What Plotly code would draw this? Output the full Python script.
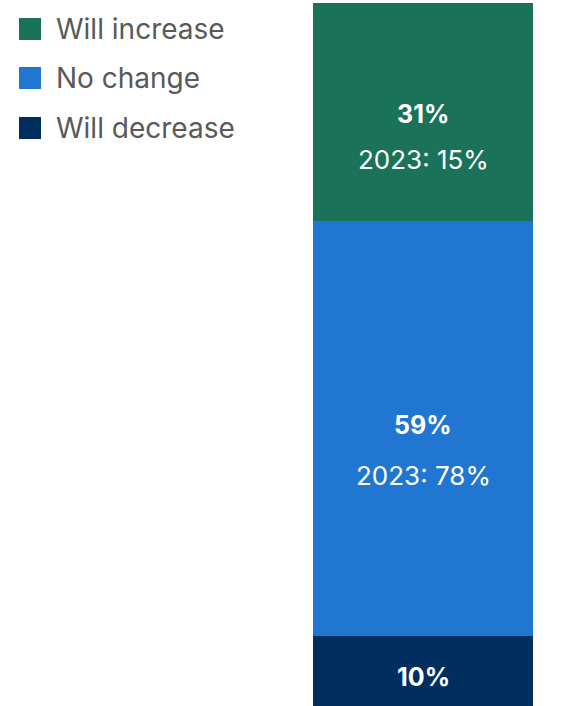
import plotly.graph_objects as go

# Data
categories = ["Will increase", "No change", "Will decrease"]
values_2024 = [31, 59, 10]
values_2023 = [15, 78, None]
colors = ["#1A7358", "#2176D2", "#002F5F"]

W, H = 579, 706
MT, MB = 3, 0
PH = H - MT - MB
FONT = "Inter"

fig = go.Figure()
# stack bottom-up: decrease, no change, increase
for i in [2, 1, 0]:
    fig.add_trace(go.Bar(
        x=[0], y=[values_2024[i]], name=categories[i],
        marker=dict(color=colors[i], line=dict(width=0)),
        width=1, showlegend=False, hoverinfo="skip",
    ))

annotations = []
shapes = []
# segment labels
cum = 0
order = [2, 1, 0]
shifts = {0: (-2, -48), 1: (3, -47), 2: (-6, None)}
for i in order:
    v = values_2024[i]
    mid = cum + v / 2
    cum += v
    s_bold, s_sub = shifts[i]
    annotations.append(dict(
        x=0, y=mid, xref="x", yref="y", text=f"<b>{v}%</b>", showarrow=False,
        font=dict(family=FONT, size=25, color="white"), yshift=s_bold,
    ))
    if values_2023[i] is not None:
        annotations.append(dict(
            x=0, y=mid, xref="x", yref="y", text=f"2023: {values_2023[i]}%", showarrow=False,
            font=dict(family=FONT, size=26, color="white"), yshift=s_sub,
        ))

# manual legend
def py(p):
    return (H - MB - p) / PH

leg_tops = [18, 67, 117]
for i, top in enumerate(leg_tops):
    shapes.append(dict(type="rect", xref="paper", yref="paper",
                       x0=19 / W, x1=41 / W, y0=py(top + 22), y1=py(top),
                       fillcolor=colors[i], line=dict(width=0)))
    annotations.append(dict(
        x=54 / W, y=py(top + 11), xref="paper", yref="paper", text=categories[i],
        showarrow=False, xanchor="left", yanchor="middle",
        font=dict(family=FONT, size=28, color="#595959"),
    ))

fig.update_layout(
    width=W, height=H,
    margin=dict(l=0, r=0, t=MT, b=MB, pad=0),
    barmode="stack", bargap=0,
    paper_bgcolor="white", plot_bgcolor="white",
    xaxis=dict(domain=[313 / W, 533 / W], range=[-0.5, 0.5], visible=False, fixedrange=True),
    yaxis=dict(range=[0, 100], visible=False, fixedrange=True),
    annotations=annotations, shapes=shapes, showlegend=False,
)

fig.write_html("out.html")
